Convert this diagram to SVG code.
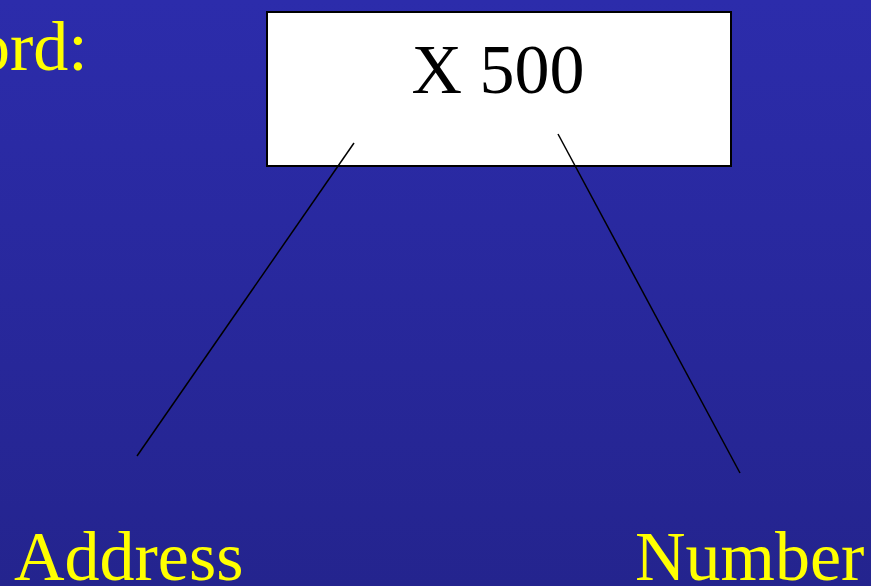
<svg xmlns="http://www.w3.org/2000/svg" width="871" height="586" viewBox="0 0 871 586">
<defs>
<linearGradient id="bg" x1="0" y1="0" x2="0" y2="1">
<stop offset="0" stop-color="#2c2cab"/>
<stop offset="1" stop-color="#24248e"/>
</linearGradient>
<style>
.lbl{font-family:"Liberation Serif","Times New Roman",serif;font-size:70px;fill:#ffff00}
.box{fill:#ffffff;stroke:#000000;stroke-width:2}
.conn{stroke:#000000;stroke-width:1.5;fill:none}
</style>
</defs>
<rect x="0" y="0" width="871" height="586" fill="url(#bg)"/>
<g id="title"><text class="lbl" x="-25" y="70">ord:</text></g>
<g id="word">
<rect class="box" x="267" y="12" width="464" height="154"/>
<text x="498" y="93" text-anchor="middle" font-family="Liberation Serif, Times New Roman, serif" font-size="70" fill="#000">X 500</text>
</g>
<g id="connectors">
<line class="conn" x1="354" y1="143" x2="137" y2="456"/>
<line class="conn" x1="558" y1="134" x2="740" y2="473"/>
</g>
<g id="address"><text class="lbl" x="14" y="580">Address</text></g>
<g id="number"><text class="lbl" x="635" y="580">Number</text></g>
</svg>
